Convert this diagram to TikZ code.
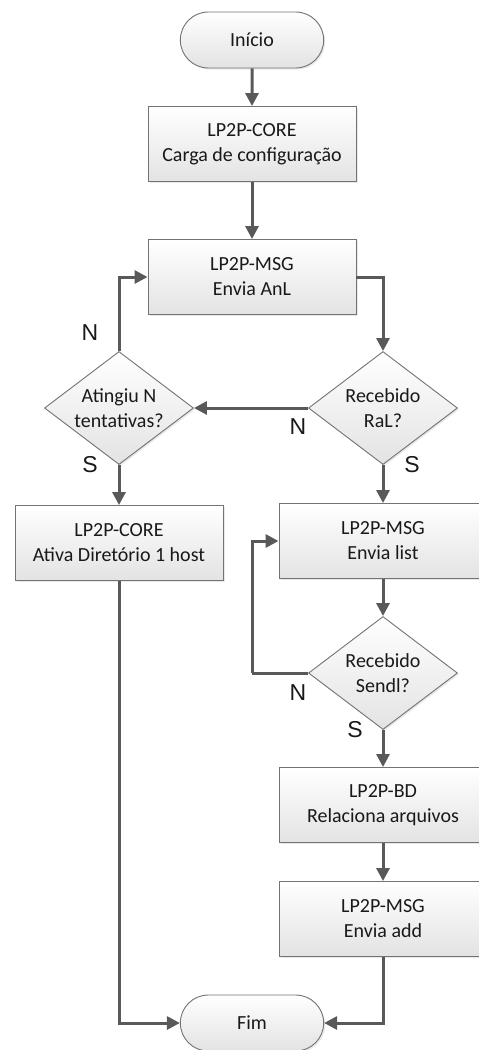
\documentclass[tikz,border=0pt]{standalone}
\usepackage{fontspec}
\setmainfont{Carlito}
\newfontfamily\yesnofont{Liberation Sans}
\usetikzlibrary{shapes.geometric,shapes.misc,arrows.meta,shadows}
\begin{document}
\begin{tikzpicture}%
	[	x=1pt,
	y=-1pt,
	shaded/.style={top color=white, bottom color=black!11, draw=black!55, line width=0.9pt,
		drop shadow={shadow xshift=1.5pt, shadow yshift=-1.5pt, opacity=0.18}},
	txt/.style={font=\fontsize{20}{25}\selectfont, text=black!90, align=center},
	process/.style={shaded, txt, rectangle, minimum width=208, minimum height=75, inner sep=2pt},
	decision/.style={shaded, txt, diamond, minimum width=149, minimum height=113, inner sep=-6pt, aspect=1.32},
	terminal/.style={shaded, txt, rounded rectangle, minimum width=150, minimum height=56},
	yesno/.style={font=\yesnofont\fontsize{23}{23}\selectfont, text=black!90, inner sep=0pt},
	flow/.style={draw=black!65, line width=3pt, -{Triangle[length=13pt,width=13pt]}},
	line/.style={draw=black!65, line width=3pt}]

\useasboundingbox (0,0) rectangle (479,1050);

\node[terminal] (inicio) at (252,40) {Início};
\node[process] (core) at (252,144) {LP2P-CORE\\Carga de configuração};
\node[process] (anl) at (252,277) {LP2P-MSG\\Envia AnL};
\node[decision] (tent) at (119,408) {Atingiu N\\tentativas?};
\node[decision] (ral) at (383,408) {Recebido\\RaL?};
\node[process] (dir) at (119,543) {LP2P-CORE\\Ativa Diretório 1 host};
\node[process] (list) at (383,541) {LP2P-MSG\\Envia list};
\node[decision] (sendl) at (383,673) {Recebido\\Sendl?};
\node[process] (bd) at (383,805) {LP2P-BD\\Relaciona arquivos};
\node[process] (add) at (383,919) {LP2P-MSG\\Envia add};
\node[terminal] (fim) at (252,1023) {Fim};

\coordinate (loop) at (252,673);

\node[yesno] (nTent) at (90,333) {N};
\node[yesno] (sTent) at (90,465) {S};
\node[yesno] (nRal) at (298,427) {N};
\node[yesno] (sRal) at (412,465) {S};
\node[yesno] (nSendl) at (298,693) {N};
\node[yesno] (sSendl) at (355,730) {S};

\draw[flow] (inicio) -- (core);
\draw[flow] (core) -- (anl);
\draw[flow] (anl.east) -| (ral.north);
\draw[flow] (ral.west) -- (tent.east);
\draw[flow] (tent.north) |- (anl.west);
\draw[flow] (tent.south) -- (dir.north);
\draw[flow] (ral.south) -- (list.north);
\draw[flow] (list) -- (sendl);
\draw[line] (sendl.west) -- (loop);
\draw[flow] (loop) |- (list.west);
\draw[flow] (sendl.south) -- (bd);
\draw[flow] (bd) -- (add);
\draw[flow] (dir.south) |- (fim.west);
\draw[flow] (add.south) |- (fim.east);
\end{tikzpicture}
\end{document}
